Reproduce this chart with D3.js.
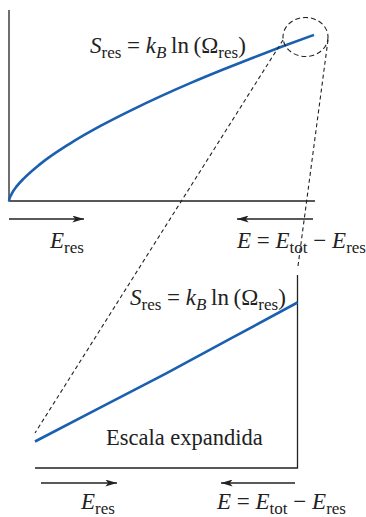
<!DOCTYPE html>
<html>
<head>
<meta charset="utf-8">
<script src="https://cdn.jsdelivr.net/npm/d3@7"></script>
<style>
  body { margin: 0; background: #fff; }
  svg { display: block; }
</style>
</head>
<body>
<svg id="chart" width="366" height="517"></svg>
<script>
// full curve S_res(E_res) (arbitrary units)
const energy = [0, 0.02, 0.05, 0.1, 0.25, 0.5, 1, 2, 3, 4, 5, 6, 7, 8, 9, 10];
const entropy = [0, 0.17, 0.3, 0.48, 0.88, 1.38, 2.19, 3.46, 4.52, 5.46, 6.33, 7.14, 7.9, 8.63, 9.33, 10];

// expanded view of the last piece of the curve (lower panel)
const zoomEnergy = [0, 0.25, 0.5, 0.75, 1];
const zoomEntropy = [0, 0.245, 0.49, 0.745, 1];

const blue = '#1a5fb0';
const ink = '#222';
const serif = '"Liberation Serif", "Times New Roman", serif';

const svg = d3.select('#chart');

const defs = svg.append('defs');
defs.append('marker')
    .attr('id', 'head')
    .attr('viewBox', '0 0 10 6')
    .attr('refX', 10).attr('refY', 3)
    .attr('markerWidth', 13).attr('markerHeight', 7)
    .attr('markerUnits', 'userSpaceOnUse')
    .attr('orient', 'auto')
    .append('path')
    .attr('d', 'M0,0 L10,3 L0,6 L2.5,3 Z')
    .attr('fill', ink);

// ---- upper panel ----
const x = d3.scaleLinear().domain([0, 10]).range([9, 314]);
const y = d3.scaleLinear().domain([0, 11.5]).range([201, 10]);

const line = d3.line()
    .x((d, i) => x(energy[i]))
    .y((d, i) => y(entropy[i]))
    .curve(d3.curveMonotoneX);

svg.append('path')
    .attr('d', `M${x(0)},${y(11.5)} V${y(0)} H${x(10) + 1}`)
    .attr('fill', 'none').attr('stroke', ink).attr('stroke-width', 1.3);

svg.append('path')
    .datum(energy)
    .attr('d', line)
    .attr('fill', 'none').attr('stroke', blue).attr('stroke-width', 2.6);

// ---- lower panel ----
const zx = d3.scaleLinear().domain([0, 1]).range([35, 297.5]);
const zy = d3.scaleLinear().domain([0, 1]).range([441.5, 302.5]);

const zline = d3.line()
    .x((d, i) => zx(zoomEnergy[i]))
    .y((d, i) => zy(zoomEntropy[i]));

svg.append('path')
    .attr('d', `M${zx(0)},468 H${zx(1)} V275`)
    .attr('fill', 'none').attr('stroke', ink).attr('stroke-width', 1.3);

svg.append('path')
    .datum(zoomEnergy)
    .attr('d', zline)
    .attr('fill', 'none').attr('stroke', blue).attr('stroke-width', 2.6);

// ---- magnifier ellipse + guide lines ----
svg.append('ellipse')
    .attr('cx', 305.5).attr('cy', 37).attr('rx', 22.5).attr('ry', 19.5)
    .attr('fill', 'none').attr('stroke', ink).attr('stroke-width', 1.1)
    .attr('stroke-dasharray', '5,3');

const dash = [
    [[283, 40], [zx(0), 433]],
    [[328, 40], [298, 266]]
];
dash.forEach(s => {
    svg.append('line')
        .attr('x1', s[0][0]).attr('y1', s[0][1])
        .attr('x2', s[1][0]).attr('y2', s[1][1])
        .attr('stroke', ink).attr('stroke-width', 1.1)
        .attr('stroke-dasharray', '4,3');
});

// ---- arrows ----
function arrow(x1, x2, yy) {
    svg.append('line')
        .attr('x1', x1).attr('y1', yy).attr('x2', x2).attr('y2', yy)
        .attr('stroke', ink).attr('stroke-width', 1.3)
        .attr('marker-end', 'url(#head)');
}
arrow(9, 84, 219);
arrow(313, 237, 219);
arrow(41, 117, 483);
arrow(295, 221, 483);

// ---- labels ----
function label(xx, yy, parts, size) {
    const t = svg.append('text').attr('x', xx).attr('y', yy)
        .style('font-family', serif).style('font-size', size + 'px').attr('fill', '#222');
    let shift = 0;
    parts.forEach(p => {
        const s = t.append('tspan').text(p.t);
        const target = p.sub ? size * 0.2 : 0;
        if (target !== shift) { s.attr('dy', target - shift); shift = target; }
        if (p.sub) s.style('font-size', (size * 0.74) + 'px');
        if (p.it) s.style('font-style', 'italic');
    });
    return t;
}

const sEq = [
    { t: 'S', it: true }, { t: 'res', sub: true },
    { t: ' = ' }, { t: 'k', it: true }, { t: 'B', it: true, sub: true },
    { t: '\u2009ln\u2009(Ω' }, { t: 'res', sub: true }, { t: ')' }
];
const eRes = [{ t: 'E', it: true }, { t: 'res', sub: true }];
const eTot = [
    { t: 'E', it: true }, { t: ' = ' }, { t: 'E', it: true }, { t: 'tot', sub: true },
    { t: ' − ' }, { t: 'E', it: true }, { t: 'res', sub: true }
];

label(90, 53, sEq, 23);
label(130, 305, sEq, 23);
label(50, 248, eRes, 23);
label(237, 248, eTot, 23);
label(81, 509, eRes, 23);
label(217, 509, eTot, 23);
label(106, 445, [{ t: 'Escala expandida' }], 22.5);
</script>
</body>
</html>
